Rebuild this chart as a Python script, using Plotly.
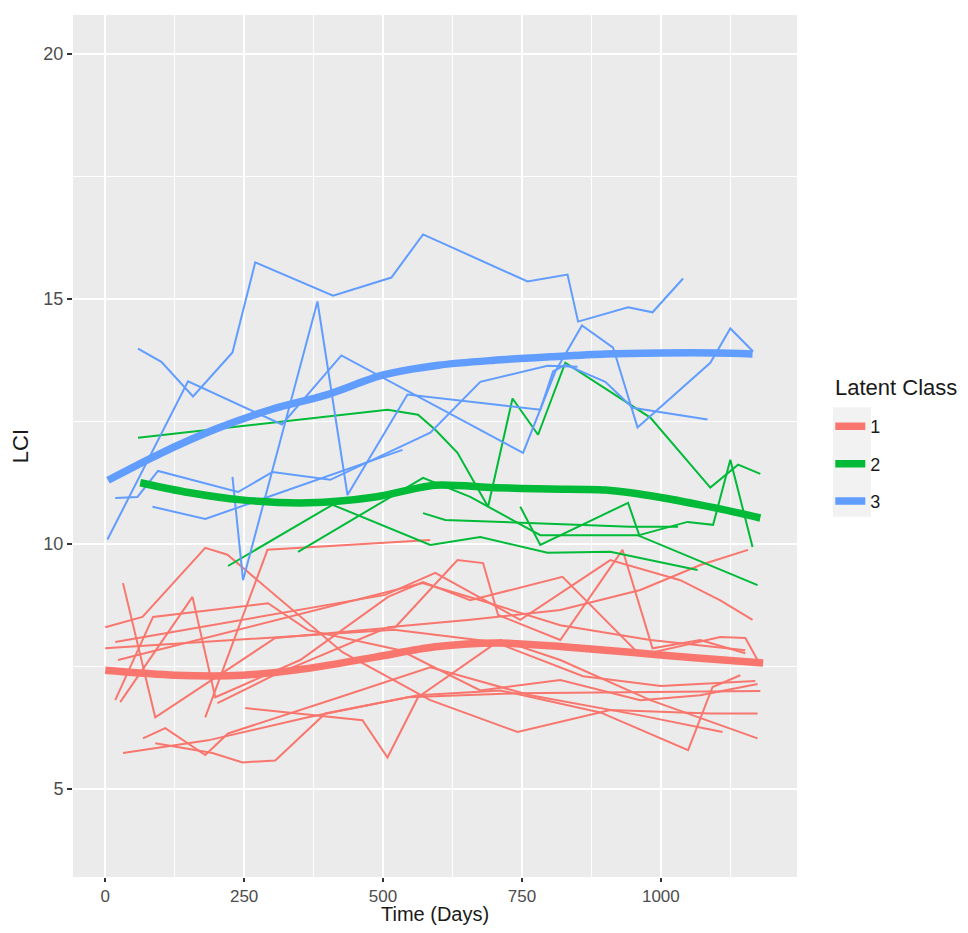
import plotly.graph_objects as go

# ---------------- data ----------------
# Class 1 (red) individual trajectories
red_days = [
    [0, 67, 180, 220, 427, 585, 742, 909, 1089, 1174],
    [180, 292, 585],
    [32, 90, 306, 522, 634, 680, 707, 819, 931, 985, 1071, 1152],
    [27, 157, 198, 351, 509, 572, 657, 823, 963, 1107, 1152, 1174],
    [18, 86, 293, 365, 531, 675, 819, 963, 1071, 1174],
    [32, 185, 365, 545, 742, 1179],
    [68, 108, 180, 221, 405, 585, 765, 963, 1111],
    [90, 193, 247, 306, 396, 563, 711, 891, 1049, 1093, 1143],
    [252, 463, 508, 563, 711, 819, 981, 1174],
    [202, 300, 509, 657, 819, 963, 1071, 1157],
    [23, 571, 675, 819, 981, 1152],
    [18, 504, 594, 747, 909, 1035, 1107, 1165],
    [0, 310, 520, 700, 860, 1000, 1170],
]
red_lci = [
    [8.30, 8.51, 9.92, 9.78, 7.79, 6.81, 6.16, 6.61, 6.54, 6.54],
    [6.46, 9.88, 10.08],
    [9.20, 6.46, 8.08, 8.30, 9.67, 9.61, 8.55, 8.04, 9.88, 7.87, 8.04, 7.77],
    [6.77, 8.92, 6.87, 7.63, 8.92, 9.22, 8.85, 9.33, 7.73, 8.10, 8.08, 7.63],
    [6.81, 8.51, 8.79, 8.24, 7.83, 7.01, 7.22, 6.81, 6.91, 7.14],
    [5.73, 5.99, 6.46, 6.87, 6.95, 7.00],
    [6.03, 6.24, 5.69, 6.13, 6.81, 7.48, 6.91, 6.50, 6.16],
    [5.93, 5.73, 5.54, 5.58, 6.54, 6.91, 7.01, 6.56, 5.79, 7.08, 7.32],
    [6.65, 6.40, 5.64, 6.87, 8.04, 7.63, 6.81, 6.03],
    [6.75, 7.30, 8.30, 8.45, 8.65, 9.06, 9.57, 9.88],
    [7.63, 9.20, 8.85, 8.34, 8.04, 7.83],
    [8.00, 8.96, 9.41, 8.45, 9.67, 9.26, 8.85, 8.45],
    [7.87, 8.10, 8.25, 8.00, 7.30, 7.10, 7.20],
]

# Class 2 (green) individual trajectories
green_days = [
    [59, 508, 563, 594, 634, 689, 733, 779, 828, 981, 1089, 1139, 1179],
    [221, 409, 585, 675, 796, 909, 1066],
    [347, 572, 657, 783, 958, 1174],
    [572, 612, 945, 1031],
    [747, 783, 941, 961, 1048, 1094, 1125, 1165],
]
green_lci = [
    [12.17, 12.74, 12.64, 12.33, 11.86, 10.76, 12.97, 12.23, 13.70, 12.58, 11.15, 11.62, 11.43],
    [9.55, 10.80, 9.98, 10.14, 9.82, 9.84, 9.47],
    [9.84, 11.35, 10.96, 10.18, 10.18, 9.16],
    [10.63, 10.49, 10.35, 10.35],
    [10.76, 9.98, 10.84, 10.18, 10.45, 10.39, 11.72, 9.94],
]

# Class 3 (blue) individual trajectories
blue_days = [
    [59, 101, 158, 229, 270, 410, 515, 572, 760, 832, 851, 941, 985, 1040],
    [4, 149, 318, 425, 752, 810, 858, 914, 958, 1089, 1125, 1166],
    [229, 248, 382, 436, 544, 783, 806, 828, 900, 949, 1084],
    [18, 58, 95, 239, 301, 405, 585, 675, 796, 850],
    [85, 180, 535],
]
blue_lci = [
    [13.99, 13.72, 13.01, 13.91, 15.75, 15.07, 15.44, 16.32, 15.36, 15.50, 14.54, 14.83, 14.73, 15.42],
    [10.09, 13.32, 12.44, 13.85, 11.86, 13.52, 14.46, 14.01, 12.38, 13.70, 14.40, 13.93],
    [11.37, 9.26, 14.95, 11.00, 13.05, 12.74, 13.52, 13.66, 13.31, 12.78, 12.54],
    [10.94, 10.96, 11.49, 11.06, 11.47, 11.31, 12.27, 13.31, 13.64, 13.62],
    [10.76, 10.51, 11.92],
]

# Class mean trajectories (thick)
mean_red_days = [0, 126, 247, 365, 486, 594, 705, 824, 945, 1065, 1184]
mean_red_lci = [7.42, 7.32, 7.32, 7.46, 7.69, 7.90, 7.98, 7.90, 7.79, 7.67, 7.57]
mean_green_days = [63, 150, 245, 365, 486, 593, 700, 800, 900, 1000, 1100, 1179]
mean_green_lci = [11.25, 11.05, 10.90, 10.84, 10.96, 11.20, 11.15, 11.12, 11.10, 10.95, 10.73, 10.53]
mean_blue_days = [5, 100, 200, 300, 400, 500, 600, 700, 800, 900, 1000, 1100, 1165]
mean_blue_lci = [11.30, 11.85, 12.35, 12.75, 13.05, 13.45, 13.65, 13.75, 13.82, 13.88, 13.90, 13.90, 13.88]

class_names = ["1", "2", "3"]
class_colors = ["#F8766D", "#00BA38", "#619CFF"]

x_ticks = [0, 250, 500, 750, 1000]
y_ticks = [5, 10, 15, 20]

# ---------------- figure ----------------
fig = go.Figure()
FONT = "Liberation Sans, Arial, sans-serif"

thin = [(red_days, red_lci), (green_days, green_lci), (blue_days, blue_lci)]
for (days_list, lci_list), col, nm in zip(thin, class_colors, class_names):
    for d, v in zip(days_list, lci_list):
        fig.add_trace(go.Scatter(x=d, y=v, mode="lines",
                                 line=dict(color=col, width=2),
                                 showlegend=False, legendgroup=nm, hoverinfo="skip"))

means = [(mean_red_days, mean_red_lci), (mean_green_days, mean_green_lci),
         (mean_blue_days, mean_blue_lci)]
for (d, v), col, nm in zip(means, class_colors, class_names):
    fig.add_trace(go.Scatter(x=d, y=v, mode="lines", name=nm,
                             line=dict(color=col, width=7.5, shape="spline", smoothing=0.8),
                             legendgroup=nm, showlegend=True))

# light grey legend-key background (ggplot style)
fig.add_shape(type="rect", xref="paper", yref="paper",
              x0=1.0497, x1=1.1022, y0=0.418, y1=0.545,
              fillcolor="#F2F2F2", line=dict(width=0), layer="below")

# legend title as an annotation (ggplot spacing)
fig.add_annotation(text="Latent Class", xref="paper", yref="paper",
                   x=1.0497, y=0.5684, xanchor="left", yanchor="middle",
                   showarrow=False, font=dict(size=22, color="#1A1A1A"))

# x-axis title placed below the tick labels
fig.add_annotation(text="Time (Days)", xref="paper", yref="paper",
                   x=0.5, y=-0.0425, xanchor="center", yanchor="middle",
                   showarrow=False, font=dict(size=20, color="#1A1A1A"))

fig.update_layout(
    width=952, height=917,
    margin=dict(l=65, r=163, t=7, b=48, autoexpand=False),
    paper_bgcolor="white",
    plot_bgcolor="#EBEBEB",
    font=dict(family=FONT, color="#4D4D4D", size=17),
    legend=dict(
        font=dict(size=18, color="#1A1A1A"),
        x=1.046, xanchor="left", y=0.544, yanchor="top",
        bgcolor="rgba(0,0,0,0)", tracegroupgap=11,
    ),
)
fig.update_xaxes(
    range=[-58, 1245], tickvals=x_ticks, ticks="outside", ticklen=4,
    tickcolor="#333333", tickwidth=1.5, showline=False, zeroline=False,
    gridcolor="white", gridwidth=1.5, automargin=False,
    minor=dict(dtick=125, tick0=0, showgrid=True, gridcolor="white", gridwidth=0.7, ticks=""),
    tickfont=dict(size=17, color="#4D4D4D"),
)
fig.update_yaxes(
    range=[3.2, 20.8], tickvals=y_ticks, ticks="outside", ticklen=5,
    tickcolor="#333333", tickwidth=1.5, showline=False, zeroline=False,
    gridcolor="white", gridwidth=1.5, automargin=False,
    minor=dict(dtick=2.5, tick0=0, showgrid=True, gridcolor="white", gridwidth=0.7, ticks=""),
    tickfont=dict(size=18, color="#4D4D4D"),
    title=dict(text="LCI", font=dict(size=22, color="#1A1A1A"), standoff=10),
)

fig.write_html("out.html")
